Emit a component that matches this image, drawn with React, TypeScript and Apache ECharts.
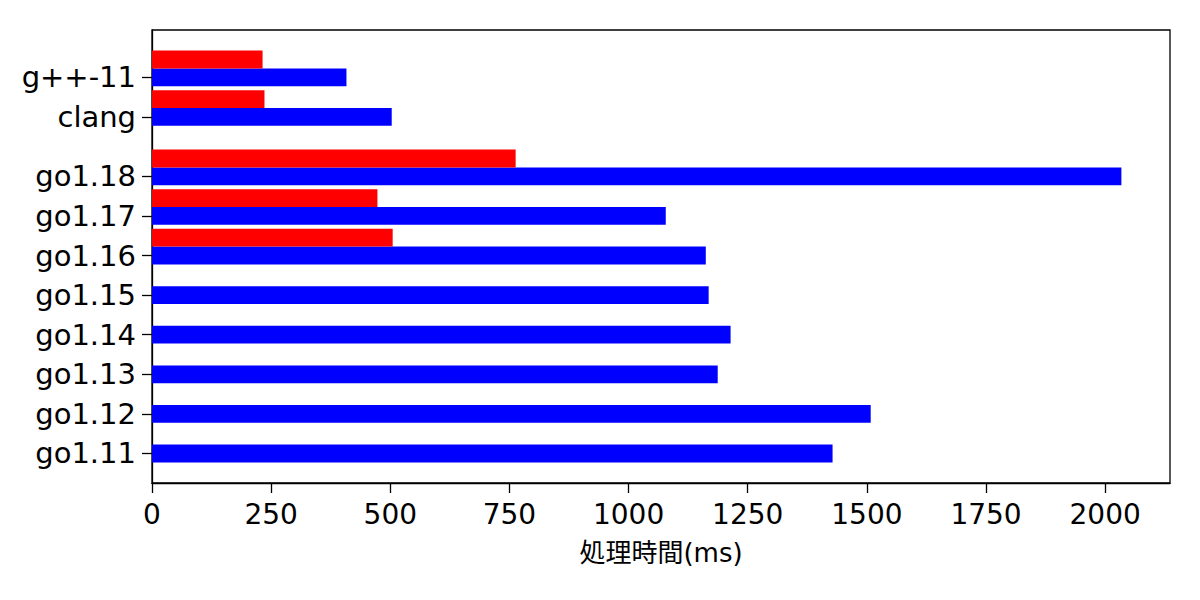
import React, { useEffect, useRef } from "react";
import * as echarts from "echarts";

const labels = ["go1.11", "go1.12", "go1.13", "go1.14", "go1.15", "go1.16", "go1.17", "go1.18", "clang", "g++-11"];
const positions = [0, 1, 2, 3, 4, 5, 6, 7, 8.5, 9.5];
const blueValues = [1428, 1508, 1187, 1214, 1168, 1162, 1078, 2034, 503, 408];
const redValues: (number | null)[] = [null, null, null, null, null, 505, 473, 763, 236, 232];
const barHeight = 0.45;
const xTicks = [0, 250, 500, 750, 1000, 1250, 1500, 1750, 2000];

const FONT = "'DejaVu Sans', 'Noto Sans CJK JP', sans-serif";

export default function App() {
  const ref = useRef<HTMLDivElement>(null);
  useEffect(() => {
    if (!ref.current) return;
    const chart = echarts.init(ref.current, null, { renderer: "svg" });

    const blueData = positions.map((p, i) => [blueValues[i], p]);
    const redData = positions
      .map((p, i) => (redValues[i] == null ? null : [redValues[i], p + barHeight]))
      .filter((d) => d !== null);

    const renderBar = (color: string) => (params: any, api: any) => {
      const v = api.value(0);
      const y = api.value(1);
      const p0 = api.coord([0, y + barHeight / 2]);
      const p1 = api.coord([v, y - barHeight / 2]);
      return {
        type: "rect",
        shape: { x: p0[0], y: p0[1], width: p1[0] - p0[0], height: p1[1] - p0[1] },
        style: { fill: color },
      };
    };

    const labelMap: Record<string, string> = {};
    positions.forEach((p, i) => (labelMap[String(p)] = labels[i]));

    chart.setOption({
      animation: false,
      backgroundColor: "#ffffff",
      grid: {
        left: 152,
        right: 30,
        top: 30,
        bottom: 117,
        show: true,
        borderColor: "#000",
        borderWidth: 1.3,
        backgroundColor: "transparent",
      },
      xAxis: {
        type: "value",
        min: 0,
        max: 2136,
        interval: 250,
        name: "処理時間(ms)",
        nameLocation: "middle",
        nameGap: 57,
        nameTextStyle: { fontFamily: FONT, fontSize: 26, color: "#000" },
        axisLine: { show: true, onZero: false, lineStyle: { color: "#000", width: 1.3 } },
        axisTick: { show: true, inside: false, length: 10, lineStyle: { color: "#000", width: 1.3 } },
        axisLabel: {
          show: true,
          margin: 17,
          fontFamily: FONT,
          fontSize: 28,
          color: "#000",
          showMaxLabel: false,
          formatter: (v: number) => (xTicks.includes(v) ? String(v) : ""),
        },
        splitLine: { show: false },
      },
      yAxis: {
        type: "value",
        min: -0.745,
        max: 10.695,
        axisLine: { show: true, onZero: false, lineStyle: { color: "#000", width: 1.3 } },
        axisTick: {
          show: true,
          length: 10,
          customValues: positions,
          lineStyle: { color: "#000", width: 1.3 },
        },
        axisLabel: {
          show: true,
          margin: 16,
          fontFamily: FONT,
          fontSize: 29,
          color: "#000",
          padding: [3, 0, 0, 0],
          customValues: positions,
          formatter: (v: number) => labelMap[String(v)] ?? "",
        },
        splitLine: { show: false },
      },
      series: [
        {
          type: "custom",
          name: "blue",
          renderItem: renderBar("#0000ff"),
          data: blueData,
          encode: { x: 0, y: 1 },
        },
        {
          type: "custom",
          name: "red",
          renderItem: renderBar("#ff0000"),
          data: redData,
          encode: { x: 0, y: 1 },
        },
      ],
    });
    return () => chart.dispose();
  }, []);

  return (
    <div
      ref={ref}
      style={{ position: "fixed", left: 0, top: 0, width: 1200, height: 600, background: "#fff" }}
    />
  );
}
